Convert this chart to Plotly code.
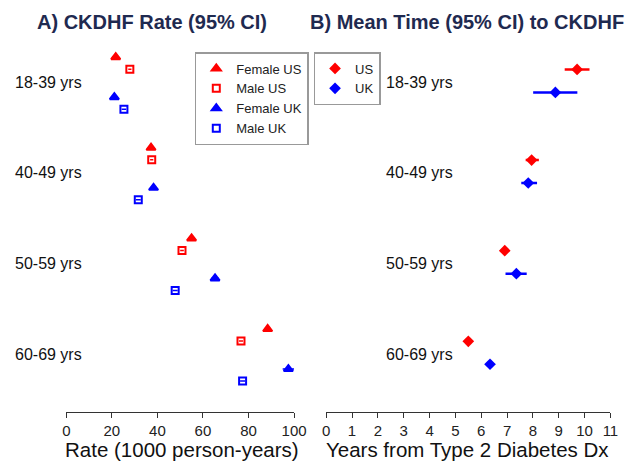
import plotly.graph_objects as go

# ---------------- data ----------------
age_groups = ["18-39 yrs", "40-49 yrs", "50-59 yrs", "60-69 yrs"]
group_pos = [1, 2, 3, 4]

# Panel A: rate per 1000 person-years
female_us = [21.7, 37.2, 55.0, 88.4]
female_us_lo = [20.9, 36.4, 54.2, 87.4]
female_us_hi = [22.5, 38.0, 55.8, 89.4]
male_us = [27.9, 37.5, 50.8, 76.7]
male_us_lo = [27.2, 36.8, 50.0, 75.8]
male_us_hi = [28.6, 38.2, 51.6, 77.6]
female_uk = [21.1, 38.3, 65.3, 97.5]
female_uk_lo = [20.0, 37.3, 63.6, 95.0]
female_uk_hi = [22.2, 39.3, 67.0, 100.0]
male_uk = [25.3, 31.6, 47.8, 77.4]
male_uk_lo = [24.3, 30.5, 46.7, 76.3]
male_uk_hi = [26.3, 32.7, 48.9, 78.5]

# Panel B: mean years from T2D diagnosis to CKDHF
us_time = [9.71, 7.95, 6.91, 5.50]
us_time_lo = [9.23, 7.72, 6.82, 5.43]
us_time_hi = [10.19, 8.23, 7.00, 5.58]
uk_time = [8.87, 7.82, 7.36, 6.34]
uk_time_lo = [8.01, 7.55, 6.94, 6.26]
uk_time_hi = [9.72, 8.16, 7.76, 6.43]

ticks_a = [0, 20, 40, 60, 80, 100]
ticks_b = list(range(0, 12))

RED = "#FF0000"
BLUE = "#0000FF"
NAVY = "#1F2A50"
FONT = "Arial, Liberation Sans, sans-serif"

fig = go.Figure()


def ypos(off):
    return [g + off for g in group_pos]


def err(v, lo, hi, color, thick):
    return dict(type="data", symmetric=False,
                array=[h - x for x, h in zip(v, hi)],
                arrayminus=[x - l for x, l in zip(v, lo)],
                color=color, thickness=thick, width=0)


# Panel A traces
specs_a = [
    ("Female US", female_us, female_us_lo, female_us_hi, -0.276, RED, "triangle-up", 8),
    ("Male US", male_us, male_us_lo, male_us_hi, -0.143, RED, "square-open", 7),
    ("Female UK", female_uk, female_uk_lo, female_uk_hi, 0.166, BLUE, "triangle-up", 8),
    ("Male UK", male_uk, male_uk_lo, male_uk_hi, 0.298, BLUE, "square-open", 7),
]
for name, v, lo, hi, off, col, sym, sz in specs_a:
    fig.add_trace(go.Scatter(
        x=v, y=ypos(off), mode="markers", name=name,
        marker=dict(symbol=sym, size=sz, color=col, line=dict(color=col, width=2)),
        error_x=err(v, lo, hi, col, 1.5),
        xaxis="x", yaxis="y", legend="legend",
    ))

# Panel B traces
specs_b = [
    ("US", us_time, us_time_lo, us_time_hi, -0.14, RED),
    ("UK", uk_time, uk_time_lo, uk_time_hi, 0.113, BLUE),
]
for name, v, lo, hi, off, col in specs_b:
    fig.add_trace(go.Scatter(
        x=v, y=ypos(off), mode="markers", name=name,
        marker=dict(symbol="diamond", size=9, color=col),
        error_x=err(v, lo, hi, col, 2.5),
        xaxis="x2", yaxis="y2", legend="legend2",
    ))

W, H = 639, 463
y_top_px, y_bot_px = 45, 412
ydom = [(H - y_bot_px) / H, (H - y_top_px) / H]
yrange = [4.64, 0.59]

axis_common = dict(
    showline=True, linecolor="#333", linewidth=1,
    ticks="outside", ticklen=5, tickcolor="#333", tickwidth=1,
    showgrid=False, zeroline=False,
    tickfont=dict(family=FONT, size=15, color="#222"),
)

annotations = []
# Row labels
for g, lab in zip(group_pos, age_groups):
    annotations.append(dict(text=lab, x=9 / W, xref="paper", y=g, yref="y",
                            xanchor="left", yanchor="middle", showarrow=False,
                            font=dict(family=FONT, size=16, color="#111")))
    annotations.append(dict(text=lab, x=390 / W, xref="paper", y=g, yref="y2",
                            xanchor="left", yanchor="middle", showarrow=False,
                            font=dict(family=FONT, size=16, color="#111")))
# Panel titles
annotations.append(dict(text="<b>A) CKDHF Rate (95% CI)</b>", x=152 / W, y=1 - 22 / H,
                        xref="paper", yref="paper", xanchor="center", yanchor="middle",
                        showarrow=False, font=dict(family=FONT, size=20, color=NAVY)))
annotations.append(dict(text="<b>B) Mean Time (95% CI) to CKDHF</b>", x=476 / W, y=1 - 22 / H,
                        xref="paper", yref="paper", xanchor="center", yanchor="middle",
                        showarrow=False, font=dict(family=FONT, size=20, color=NAVY)))
# Axis titles
annotations.append(dict(text="Rate (1000 person-years)", x=183 / W, y=1 - 449 / H,
                        xref="paper", yref="paper", xanchor="center", yanchor="middle",
                        showarrow=False, font=dict(family=FONT, size=20.5, color="#111")))
annotations.append(dict(text="Years from Type 2 Diabetes Dx", x=476 / W, y=1 - 449 / H,
                        xref="paper", yref="paper", xanchor="center", yanchor="middle",
                        showarrow=False, font=dict(family=FONT, size=20.5, color="#111")))

legend_common = dict(
    bgcolor="white", bordercolor="#999", borderwidth=1.5,
    font=dict(family=FONT, size=13, color="#222"),
    xanchor="left", yanchor="top", itemclick=False, tracegroupgap=0,
)

fig.update_layout(
    width=W, height=H,
    margin=dict(l=0, r=0, t=0, b=0),
    paper_bgcolor="white", plot_bgcolor="white",
    showlegend=True,
    xaxis=dict(domain=[64 / W, 298 / W], range=[0, 100], tickvals=ticks_a,
               anchor="y", **axis_common),
    xaxis2=dict(domain=[331 / W, 623 / W], range=[0, 11], tickvals=ticks_b,
                anchor="y2", **axis_common),
    yaxis=dict(domain=ydom, range=yrange, visible=False, anchor="x"),
    yaxis2=dict(domain=ydom, range=yrange, visible=False, anchor="x2"),
    legend=dict(x=196 / W, y=1 - 52 / H, **legend_common),
    legend2=dict(x=318 / W, y=1 - 52 / H, **legend_common),
    annotations=annotations,
)

fig.write_html("out.html")
